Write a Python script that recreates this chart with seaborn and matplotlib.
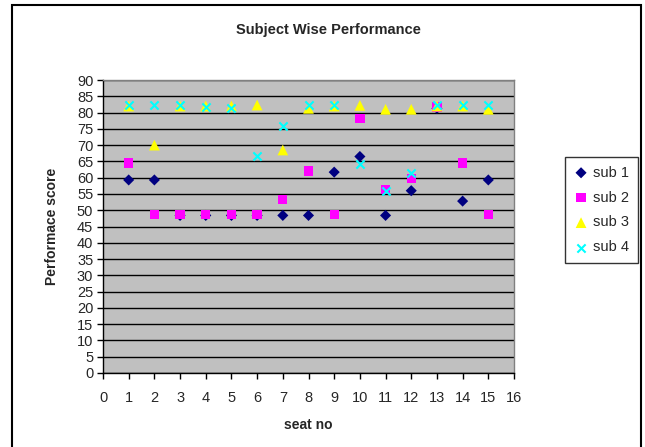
import matplotlib
matplotlib.use("Agg")
import matplotlib.pyplot as plt
import matplotlib.patches as mpatches
import seaborn as sns
import pandas as pd
import numpy as np

seats = list(range(1, 16))
sub1 = [59.3, 59.3, 48.4, 48.4, 48.4, 48.4, 48.4, 48.4, 61.7, 66.5, 48.4, 56.0, 81.3, 52.8, 59.3]
sub2 = [64.5, 48.7, 48.7, 48.7, 48.7, 48.7, 53.3, 62.0, 48.7, 78.2, 56.4, 59.7, 81.7, 64.5, 48.7]
sub3 = [82.0, 70.0, 82.0, 82.0, 82.0, 82.3, 68.5, 81.3, 82.0, 82.2, 81.0, 81.0, 82.0, 82.0, 81.0]
sub4 = [82.2, 82.2, 82.2, 81.7, 81.3, 66.6, 75.8, 82.2, 82.2, 64.3, 56.0, 61.4, 82.2, 82.2, 82.2]
series_names = ["sub 1", "sub 2", "sub 3", "sub 4"]
title = "Subject Wise Performance"
xlabel = "seat no"
ylabel = "Performace score"

df = pd.DataFrame({"seat": seats, "sub 1": sub1, "sub 2": sub2, "sub 3": sub3, "sub 4": sub4})
long = df.melt(id_vars="seat", var_name="series", value_name="score")

sns.set_theme(style="white")
plt.rcParams["font.family"] = ["Liberation Sans", "DejaVu Sans"]

fig = plt.figure(figsize=(6.45, 4.47), dpi=100)
ax = fig.add_axes([103 / 645, 1 - 373 / 447, (514 - 103) / 645, (373 - 80) / 447])
ax.set_facecolor("#C0C0C0")

palette = {"sub 1": "#000080", "sub 2": "#FF00FF", "sub 3": "#FFFF00", "sub 4": "#00FFFF"}
markers = {"sub 1": "D", "sub 2": "s", "sub 3": "^", "sub 4": "x"}
sizes = {"sub 1": 32, "sub 2": 45, "sub 3": 60, "sub 4": 35}

for name in series_names:
    sub = long[long["series"] == name]
    kw = dict(linewidths=1.5) if markers[name] == "x" else dict(edgecolor="none")
    sns.scatterplot(data=sub, x="seat", y="score", ax=ax, color=palette[name],
                    marker=markers[name], s=sizes[name], label=name, zorder=3, **kw)

ax.set_xlim(0, 16)
ax.set_ylim(0, 90)
ax.set_xticks(range(0, 17))
ax.set_yticks(range(0, 91, 5))
ax.yaxis.grid(True, color="black", linewidth=1.0)
ax.xaxis.grid(False)
ax.set_axisbelow(True)
for s in ["top", "right"]:
    ax.spines[s].set_color("#808080")
    ax.spines[s].set_linewidth(1.0)
for s in ["left", "bottom"]:
    ax.spines[s].set_color("black")
    ax.spines[s].set_linewidth(1.0)
ax.tick_params(axis="both", which="major", labelsize=10.5, length=4, width=1,
               color="black", direction="out", left=True, bottom=True, pad=3)
ax.tick_params(axis="x", pad=9)

ax.set_xlabel(xlabel, fontsize=10, fontweight="bold", labelpad=9)
ax.set_ylabel(ylabel, fontsize=10, fontweight="bold", labelpad=13)
fig.text(328 / 645, 1 - 30 / 447, title, ha="center", va="center", fontsize=10.5, fontweight="bold")

leg = ax.legend(loc="center left", bbox_to_anchor=(565 / 645, 1 - 210 / 447),
                bbox_transform=fig.transFigure, frameon=True, fancybox=False,
                edgecolor="black", fontsize=10.5, handletextpad=0.35, borderpad=0.6,
                labelspacing=0.75, handlelength=1.0, borderaxespad=0)
leg.get_frame().set_linewidth(1.0)

border = mpatches.Rectangle((12 / 645, -0.05), (641 - 12) / 645, 1 - 5 / 447 + 0.05,
                            transform=fig.transFigure, fill=False, edgecolor="black",
                            linewidth=1.5, clip_on=False)
fig.patches.append(border)

fig.savefig("out.png", dpi=100)
